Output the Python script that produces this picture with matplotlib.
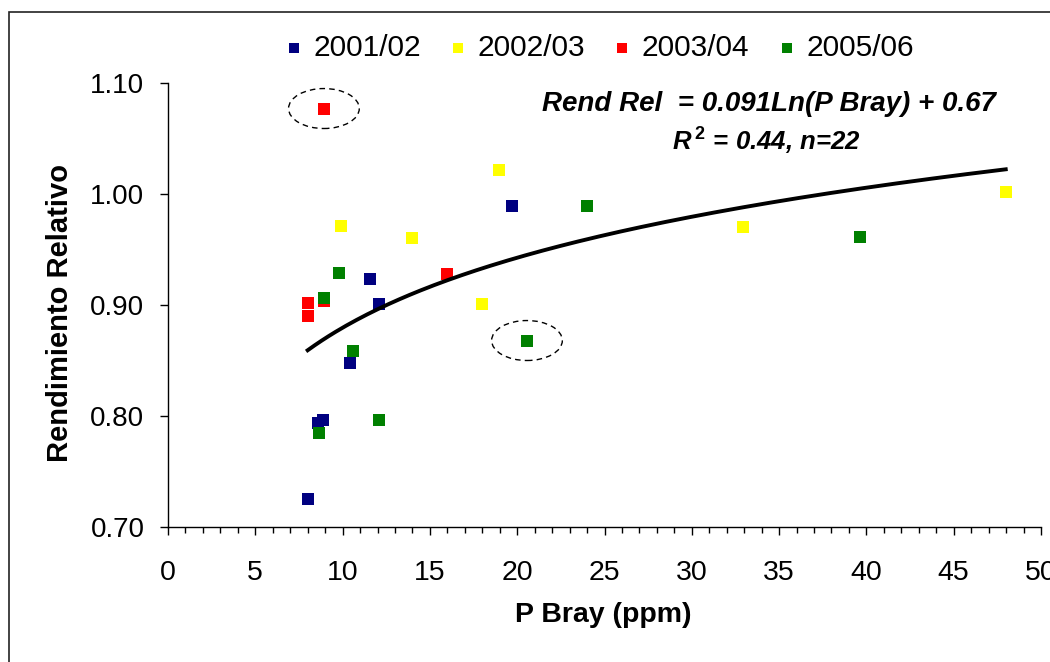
import numpy as np
import matplotlib.pyplot as plt
from matplotlib.patches import Ellipse, Rectangle
from matplotlib.ticker import MultipleLocator, FormatStrFormatter

plt.rcParams["font.family"] = ["Liberation Sans", "DejaVu Sans"]
plt.rcParams["mathtext.fontset"] = "custom"
plt.rcParams["mathtext.it"] = "Liberation Sans:italic:bold"
plt.rcParams["mathtext.rm"] = "Liberation Sans:bold"

# --- datos ---
blue_x = [8.0, 8.59, 8.86, 10.44, 11.57, 12.1, 19.7]
blue_y = [0.725, 0.794, 0.796, 0.848, 0.923, 0.901, 0.989]

yellow_x = [9.93, 13.97, 18.98, 17.97, 32.93, 47.98]
yellow_y = [0.971, 0.960, 1.022, 0.901, 0.970, 1.002]

red_x = [8.93, 8.0, 8.0, 15.96, 8.93]
red_y = [1.077, 0.902, 0.890, 0.928, 0.904]

green_x = [9.79, 8.92, 10.6, 12.08, 8.65, 20.56, 24.0, 39.65]
green_y = [0.929, 0.906, 0.859, 0.796, 0.785, 0.868, 0.989, 0.961]

series_labels = ["2001/02", "2002/03", "2003/04", "2005/06"]
series_colors = ["#000080", "#FFFF00", "#FF0000", "#008000"]

# Rend Rel = a*Ln(P Bray) + b
coef_a = 0.091
coef_b = 0.67

fig = plt.figure(figsize=(10.5, 6.62), dpi=100)
ax = fig.add_axes([168 / 1050, 1 - 527 / 662, (1041 - 168) / 1050, (527 - 83) / 662])

series = [(blue_x, blue_y), (yellow_x, yellow_y), (red_x, red_y), (green_x, green_y)]
handles = []
for (xs, ys), lab, col in zip(series, series_labels, series_colors):
    h = ax.scatter(xs, ys, marker="s", s=74, color=col, linewidths=0, zorder=2, label=lab)
    handles.append(h)

# curva de tendencia logarítmica
all_x = np.concatenate([blue_x, yellow_x, red_x, green_x])
xt = np.linspace(all_x.min(), all_x.max(), 200)
ax.plot(xt, coef_a * np.log(xt) + coef_b, color="black", lw=2.8, zorder=3)

# elipses punteadas sobre los puntos destacados
for cx, cy in [(red_x[0], red_y[0]), (green_x[5], green_y[5])]:
    ax.add_patch(Ellipse((cx, cy), 4.05, 0.036, fill=False, ec="black",
                         lw=1.0, ls=(0, (4, 3)), zorder=4))

ax.set_xlim(0, 50)
ax.set_ylim(0.70, 1.10)
ax.xaxis.set_major_locator(MultipleLocator(5))
ax.xaxis.set_minor_locator(MultipleLocator(1))
ax.yaxis.set_major_locator(MultipleLocator(0.1))
ax.yaxis.set_major_formatter(FormatStrFormatter("%.2f"))
ax.spines["top"].set_visible(False)
ax.spines["right"].set_visible(False)
for s in ["left", "bottom"]:
    ax.spines[s].set_linewidth(1.0)
ax.tick_params(axis="x", which="major", length=5.5, width=1.0, labelsize=20.5, pad=18)
ax.tick_params(axis="x", which="minor", length=4, width=1.0)
ax.tick_params(axis="y", which="major", length=6, width=1.0, labelsize=20, pad=11)

fig.text(603 / 1050, 1 - 615 / 662, "P Bray (ppm)", ha="center", va="center",
         fontsize=20.5, fontweight="bold")
fig.text(60 / 1050, 1 - 313 / 662, "Rendimiento Relativo", ha="center", va="center",
         rotation=90, fontsize=21, fontweight="bold")

fig.text(769 / 1050, 1 - 104 / 662, "Rend Rel  = 0.091Ln(P Bray) + 0.67",
         ha="center", va="center", fontsize=20, fontweight="bold", fontstyle="italic")
fig.text(766 / 1050, 1 - 141 / 662, r"$R^{\,2}$ = 0.44, n=22",
         ha="center", va="center", fontsize=18.5, fontweight="bold", fontstyle="italic")

fig.legend(handles=handles, loc="center", bbox_to_anchor=(600 / 1050, 1 - 48 / 662),
           ncol=4, frameon=False, fontsize=21.5, markerscale=0.85, handlelength=0.5,
           handletextpad=0.4, columnspacing=1.0, borderpad=0, borderaxespad=0)

fig.patches.append(Rectangle((8.5 / 1050, -0.1), 1.2, 1.1 - 12 / 662,
                             transform=fig.transFigure, fill=False, ec="#222222", lw=1.2))

fig.savefig("out.png", dpi=100)
